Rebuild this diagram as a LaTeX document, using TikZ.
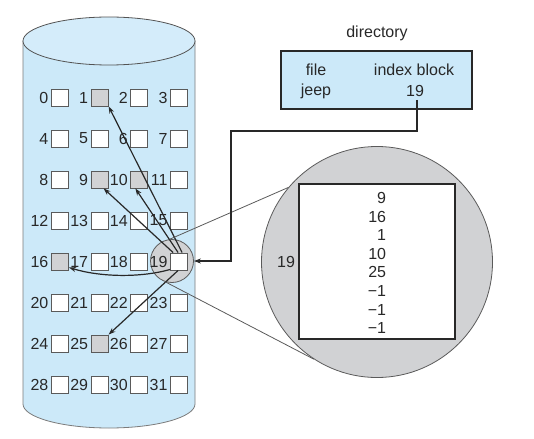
\documentclass[tikz,border=0pt]{standalone}
\usepackage{fontspec}
\setmainfont{Liberation Sans}
\usetikzlibrary{arrows.meta}
\definecolor{cyl}{RGB}{204,233,249}
\definecolor{shade}{RGB}{209,210,212}
\definecolor{ink}{RGB}{40,40,40}
\definecolor{rim}{RGB}{90,90,90}
\begin{document}
\begin{tikzpicture}[x=1pt,y=-1pt,
  font=\fontsize{16}{18}\selectfont, text=ink,
  blk/.style={draw=rim, line width=0.9pt, minimum size=17pt, inner sep=0pt},
  lbl/.style={inner sep=0pt, anchor=east},
  arr/.style={draw=ink, line width=1.2pt, -{Stealth[length=7pt,width=5pt]}},
  zoomline/.style={draw=rim, line width=0.8pt},
  txt/.style={inner sep=0pt}]
\useasboundingbox (0,0) rectangle (534,438);
% cylinder
\path[fill=cyl, draw=rim!80, line width=0.8pt]
  (23,41) -- (23,404) arc[start angle=180, end angle=360, x radius=86pt, y radius=24pt] -- (195,41);
\path[fill=cyl!85!white, draw=ink!80, line width=0.8pt] (109,41) ellipse[x radius=86pt, y radius=24pt];
% magnifier small circle
\node[circle, draw=rim, fill=shade, line width=0.8pt, minimum size=43pt, inner sep=0pt] (smallc) at (172,261) {};
% blocks
\foreach \i in {0,...,31}{
  \gdef\fc{white}
  \foreach \s in {1,9,10,16,25}{\ifnum\i=\s\relax\gdef\fc{shade}\fi}
  \pgfmathtruncatemacro\r{\i/4}
  \pgfmathtruncatemacro\c{mod(\i,4)}
  \node[blk, fill=\fc] (b\i) at ({60+39.7*\c},{97.5+41*\r}) {};
  \node[lbl] (l\i) at ([xshift=-2.5pt]b\i.west) {\i};
}
% pointers from block 19
\draw[arr] ([xshift=-6pt]b19.north) -- ([xshift=-5pt]b9.south east);
\draw[arr] ([xshift=-1pt]b19.north) -- ([xshift=-4pt]b10.south);
\draw[arr] ([xshift=3pt]b19.north) -- (b1.south east);
\draw[arr] ([yshift=1pt]b19.south west) .. controls (140,278) and (100,277) .. ([yshift=-6pt]b16.east);
\draw[arr] ([xshift=-1pt]b19.south) -- (b25.north east);
% big circle
\node[circle, draw=rim, fill=shade, line width=0.8pt, minimum size=231pt, inner sep=0pt] (bigc) at (377,262) {};
\node[draw=ink, fill=white, line width=1.6pt, minimum width=156pt, minimum height=155pt, inner sep=0pt] (idx) at (377,261.5) {};
\node[txt, align=right, font=\fontsize{16}{18.6}\selectfont] (nums) at (377,263)
  {9\\16\\1\\10\\25\\−1\\−1\\−1};
\node[txt] (n19) at (286,262) {19};
\draw[zoomline] (smallc.96) -- (bigc.140);
\draw[zoomline] (smallc.252) -- (bigc.237);
% directory
\node[txt] (dirlbl) at (377,33) {directory};
\node[draw=ink, fill=cyl, line width=1.2pt, minimum width=191pt, minimum height=58pt, inner sep=0pt] (dir) at (376.5,80) {};
\node[txt] (hfile) at (316,70) {file};
\node[txt] (hidx) at (414,70) {index block};
\node[txt] (jeep) at (316,91) {jeep};
\node[txt] (d19) at (415,91) {19};
\coordinate (bend) at (231,131);
\draw[arr] ([xshift=2pt,yshift=-3pt]d19.south) |- (bend) |- (smallc.east);
\end{tikzpicture}
\end{document}
